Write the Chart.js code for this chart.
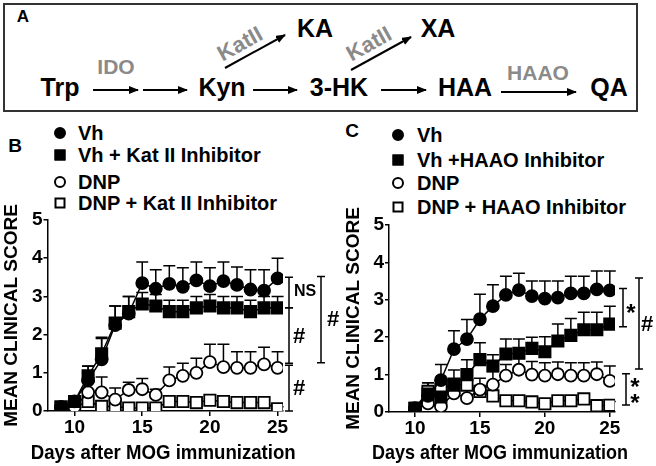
<!DOCTYPE html>
<html>
<head>
<meta charset="utf-8">
<script src="https://cdn.jsdelivr.net/npm/chart.js@4.4.1/dist/chart.umd.min.js"></script>
<style>
body{margin:0;background:#fff;width:656px;height:466px;position:relative;overflow:hidden;font-family:"Liberation Sans",Arial,sans-serif;font-weight:bold;color:#000}
.t{position:absolute;transform:translate(-50%,-50%);white-space:nowrap;line-height:1}
.l{position:absolute;transform:translate(0,-50%);white-space:nowrap;line-height:1;font-size:20px}
.g{color:#8a8a8a}
.mk{position:absolute;box-sizing:border-box;border:2px solid #000;transform:translate(-50%,-50%)}
canvas{position:absolute}
#boxA{position:absolute;left:3px;top:3px;width:635px;height:109px;border:2px solid #333;box-sizing:border-box}
</style>
</head>
<body>
<div id="boxA"></div>
<div class="t" style="left:23px;top:16px;font-size:17px">A</div>
<div class="t" style="left:60px;top:87px;font-size:25px">Trp</div>
<div class="t g" style="left:116px;top:66px;font-size:21px">IDO</div>
<div class="t" style="left:222px;top:87px;font-size:25px">Kyn</div>
<div class="t g" style="left:240px;top:44px;font-size:22px;transform:translate(-50%,-50%) rotate(-29deg)">KatII</div>
<div class="t" style="left:315px;top:28px;font-size:25px">KA</div>
<div class="t" style="left:339px;top:87px;font-size:25px">3-HK</div>
<div class="t g" style="left:369px;top:44px;font-size:22px;transform:translate(-50%,-50%) rotate(-29deg)">KatII</div>
<div class="t" style="left:438px;top:28px;font-size:25px">XA</div>
<div class="t" style="left:465px;top:87px;font-size:25px">HAA</div>
<div class="t g" style="left:538px;top:72px;font-size:21px">HAAO</div>
<div class="t" style="left:609px;top:87px;font-size:25px">QA</div>
<svg width="656" height="120" style="position:absolute;left:0;top:0">
<defs><marker id="ah" markerWidth="10" markerHeight="8" refX="9" refY="4" orient="auto" markerUnits="userSpaceOnUse"><path d="M0,0 L10,4 L0,8 z" fill="#000"/></marker></defs>
<g stroke="#000" stroke-width="2" marker-end="url(#ah)">
<line x1="93" y1="90" x2="138" y2="90"/>
<line x1="143" y1="90" x2="187" y2="90"/>
<line x1="253" y1="90" x2="297" y2="90"/>
<line x1="381" y1="90" x2="426" y2="90"/>
<line x1="501" y1="92" x2="576" y2="92"/>
<line x1="225" y1="68" x2="285" y2="35"/>
<line x1="351" y1="70" x2="411" y2="37"/>
</g>
</svg>

<div class="t" style="left:15px;top:145px;font-size:19px">B</div>
<div class="mk" style="left:60px;top:133px;width:12px;height:12px;border-radius:50%;background:#000"></div>
<div class="l" style="left:78px;top:133px">Vh</div>
<div class="mk" style="left:60px;top:155px;width:11px;height:11px;background:#000"></div>
<div class="l" style="left:78px;top:155px">Vh + Kat II Inhibitor</div>
<div class="mk" style="left:60px;top:182px;width:12px;height:12px;border-radius:50%;background:#fff"></div>
<div class="l" style="left:78px;top:182px">DNP</div>
<div class="mk" style="left:60px;top:203px;width:11px;height:11px;background:#fff"></div>
<div class="l" style="left:78px;top:203px">DNP + Kat II Inhibitor</div>

<div class="t" style="left:352px;top:130px;font-size:19px">C</div>
<div class="mk" style="left:398px;top:135px;width:12px;height:12px;border-radius:50%;background:#000"></div>
<div class="l" style="left:417px;top:135px">Vh</div>
<div class="mk" style="left:398px;top:160px;width:11px;height:11px;background:#000"></div>
<div class="l" style="left:417px;top:160px">Vh +HAAO Inhibitor</div>
<div class="mk" style="left:398px;top:183px;width:12px;height:12px;border-radius:50%;background:#fff"></div>
<div class="l" style="left:417px;top:183px">DNP</div>
<div class="mk" style="left:398px;top:207px;width:11px;height:11px;background:#fff"></div>
<div class="l" style="left:417px;top:207px">DNP + HAAO Inhibitor</div>

<canvas id="chartB" width="350" height="266" style="left:0;top:200px"></canvas>
<canvas id="chartC" width="326" height="266" style="left:330px;top:200px"></canvas>

<script>
// axis text
var yTitle = 'MEAN CLINICAL SCORE';
var xTitle = 'Days after MOG immunization';
var xTickValues = [10, 15, 20, 25];

// panel B (Kat II inhibitor)
var daysB = [9, 10, 11, 12, 13, 14, 15, 16, 17, 18, 19, 20, 21, 22, 23, 24, 25];
var vhB = [0.1, 0.25, 0.8, 1.35, 2.25, 2.55, 3.35, 3.2, 3.33, 3.25, 3.42, 3.27, 3.4, 3.3, 3.18, 3.15, 3.47];
var vhErrB = [0, 0.1, 0.38, 0.58, 0.5, 0.45, 0.55, 0.5, 0.47, 0.5, 0.48, 0.48, 0.5, 0.47, 0.52, 0.55, 0.53];
var vhKatB = [0.1, 0.25, 0.92, 1.5, 2.3, 2.6, 2.8, 2.75, 2.6, 2.6, 2.7, 2.75, 2.7, 2.7, 2.6, 2.7, 2.7];
var vhKatErrB = [0, 0.1, 0.25, 0.4, 0.45, 0.4, 0.3, 0.3, 0.3, 0.3, 0.3, 0.3, 0.3, 0.3, 0.3, 0.3, 0.3];
var dnpB = [0.1, 0.1, 0.49, 0.49, 0.3, 0.55, 0.57, 0.42, 0.8, 0.92, 1.0, 1.28, 1.15, 1.13, 1.13, 1.22, 1.13];
var dnpErrB = [0, 0, 0.35, 0.4, 0.3, 0.2, 0.28, 0.15, 0.35, 0.33, 0.38, 0.47, 0.6, 0.42, 0.42, 0.45, 0.42];
var dnpKatB = [0.1, 0.1, 0.25, 0.12, 0.12, 0.08, 0.08, 0.08, 0.25, 0.25, 0.22, 0.28, 0.25, 0.22, 0.22, 0.22, 0.06];
var dnpKatErrB = [0, 0, 0.1, 0.05, 0.05, 0.05, 0.05, 0.05, 0.1, 0.1, 0.1, 0.1, 0.1, 0.1, 0.1, 0.1, 0.05];

// panel C (HAAO inhibitor)
var daysC = [10, 11, 12, 13, 14, 15, 16, 17, 18, 19, 20, 21, 22, 23, 24, 25];
var vhC = [0.1, 0.43, 0.85, 1.68, 1.95, 2.48, 2.83, 3.13, 3.26, 3.1, 3.03, 3.06, 3.17, 3.17, 3.28, 3.25];
var vhErrC = [0, 0.35, 0.42, 0.49, 0.52, 0.67, 0.57, 0.5, 0.45, 0.4, 0.47, 0.44, 0.46, 0.46, 0.49, 0.52];
var vhHaaoC = [0.1, 0.48, 0.4, 0.72, 1.0, 1.4, 1.23, 1.55, 1.57, 1.7, 1.61, 1.9, 2.05, 2.2, 2.2, 2.35];
var vhHaaoErrC = [0, 0.3, 0.3, 0.4, 0.4, 0.45, 0.3, 0.4, 0.38, 0.3, 0.4, 0.45, 0.45, 0.47, 0.47, 0.48];
var dnpC = [0.08, 0.23, 0.15, 0.5, 0.37, 0.6, 0.73, 0.97, 1.13, 1.0, 0.97, 1.01, 0.97, 0.97, 1.01, 0.83];
var dnpErrC = [0, 0.25, 0.2, 0.3, 0.3, 0.3, 0.35, 0.3, 0.3, 0.35, 0.35, 0.33, 0.35, 0.35, 0.33, 0.4];
var dnpHaaoC = [0.1, 0.55, 0.6, 0.75, 0.72, 0.55, 0.43, 0.3, 0.3, 0.27, 0.22, 0.3, 0.3, 0.35, 0.17, 0.18];
var dnpHaaoErrC = [0, 0.1, 0.1, 0.1, 0.1, 0.1, 0.1, 0.1, 0.1, 0.1, 0.1, 0.1, 0.1, 0.1, 0.1, 0.1];

// significance brackets: [top, bottom] in score units, dx from plot right edge
var bracketsB = [
    {from: 3.5, to: 2.7, dx: 6},
    {from: 2.7, to: 1.25, dx: 6},
    {from: 1.2, to: 0, dx: 6},
    {from: 3.52, to: 1.26, dx: 38}
];
var marksB = [
    {text: 'NS', at: 3.12, dx: 22, size: 16},
    {text: '#', at: 1.94, dx: 16, size: 22},
    {text: '#', at: 0.58, dx: 16, size: 22},
    {text: '#', at: 2.38, dx: 50, size: 22}
];
var bracketsC = [
    {from: 3.3, to: 2.28, dx: 8},
    {from: 3.58, to: 1.15, dx: 24},
    {from: 1.02, to: 0.19, dx: 11}
];
var marksC = [
    {text: '*', at: 2.62, dx: 16, size: 24},
    {text: '#', at: 2.33, dx: 32, size: 22},
    {text: '*', at: 0.62, dx: 20, size: 24},
    {text: '*', at: 0.2, dx: 20, size: 24}
];

var FONT = '"Liberation Sans", Arial, sans-serif';

function pts(days, vals, errs) {
    return days.map(function(d, i) { return {x: d, y: vals[i], err: errs[i]}; });
}

function series(label, days, vals, errs, shape, fill) {
    return {
        label: label,
        data: pts(days, vals, errs),
        borderColor: '#000',
        borderWidth: 1.5,
        pointStyle: shape,
        pointRadius: shape === 'rect' ? 8 : 6,
        pointBackgroundColor: fill,
        pointBorderColor: '#000',
        pointBorderWidth: 1.8,
        tension: 0
    };
}

// upper SEM bars, drawn under the markers
var errorBars = {
    id: 'errorBars',
    beforeDatasetsDraw: function(chart) {
        var ctx = chart.ctx, xs = chart.scales.x, ys = chart.scales.y;
        ctx.save();
        ctx.strokeStyle = '#000';
        ctx.lineWidth = 1.5;
        chart.data.datasets.forEach(function(ds) {
            ds.data.forEach(function(p) {
                if (!p.err) return;
                var x = xs.getPixelForValue(p.x);
                var y0 = ys.getPixelForValue(p.y);
                var y1 = ys.getPixelForValue(p.y + p.err);
                ctx.beginPath();
                ctx.moveTo(x, y0); ctx.lineTo(x, y1);
                ctx.moveTo(x - 6, y1); ctx.lineTo(x + 6, y1);
                ctx.stroke();
            });
        });
        ctx.restore();
    }
};

// brackets + stars, and the x title (Chart.js would squeeze it to the plot width)
var brackets = {
    id: 'brackets',
    afterDraw: function(chart, args, opts) {
        var ctx = chart.ctx, ys = chart.scales.y, area = chart.chartArea, right = area.right;
        ctx.save();
        ctx.strokeStyle = '#000';
        ctx.lineWidth = 1.5;
        (opts.items || []).forEach(function(b) {
            var x = right + b.dx, y0 = ys.getPixelForValue(b.from), y1 = ys.getPixelForValue(b.to);
            ctx.beginPath();
            ctx.moveTo(x, y0); ctx.lineTo(x, y1);
            ctx.moveTo(x - 4, y0); ctx.lineTo(x + 4, y0);
            ctx.moveTo(x - 4, y1); ctx.lineTo(x + 4, y1);
            ctx.stroke();
        });
        ctx.fillStyle = '#000';
        ctx.textAlign = 'center';
        ctx.textBaseline = 'middle';
        (opts.marks || []).forEach(function(m) {
            ctx.font = 'bold ' + m.size + 'px ' + FONT;
            ctx.fillText(m.text, right + m.dx, ys.getPixelForValue(m.at));
        });
        ctx.font = 'bold 20.5px ' + FONT;
        ctx.fillText(xTitle, (area.left + area.right) / 2 - 2, chart.height - 13, opts.titleWidth);
        ctx.restore();
    }
};

function makeChart(id, datasets, pad, yWidth, xHeight, items, marks, titleWidth) {
    return new Chart(document.getElementById(id).getContext('2d'), {
        type: 'line',
        data: {datasets: datasets},
        plugins: [errorBars, brackets],
        options: {
            responsive: false,
            animation: false,
            devicePixelRatio: 1,
            layout: {padding: pad},
            plugins: {
                legend: {display: false},
                tooltip: {enabled: false},
                brackets: {items: items, marks: marks, titleWidth: titleWidth}
            },
            scales: {
                x: {
                    type: 'linear',
                    min: 8,
                    max: 25.4,
                    afterBuildTicks: function(s) { s.ticks = xTickValues.map(function(v) { return {value: v}; }); },
                    afterFit: function(s) { s.height = xHeight; },
                    ticks: {color: '#000', padding: 0, maxRotation: 0, font: {family: FONT, size: 19, weight: 'bold'}},
                    grid: {drawOnChartArea: false, drawTicks: true, tickLength: 5, color: '#000', lineWidth: 1.5},
                    border: {display: true, color: '#000', width: 1.5},
                    title: {display: false}
                },
                y: {
                    min: 0,
                    max: 5,
                    afterFit: function(s) { s.width = yWidth; },
                    ticks: {stepSize: 1, color: '#000', padding: 1, font: {family: FONT, size: 19, weight: 'bold'}},
                    grid: {drawOnChartArea: false, drawTicks: true, tickLength: 4, color: '#000', lineWidth: 1.5},
                    border: {display: true, color: '#000', width: 1.5},
                    title: {display: true, text: yTitle, color: '#000', padding: {top: 0, bottom: 0},
                            font: {family: FONT, size: 19, weight: 'bold'}}
                }
            }
        }
    });
}

makeChart('chartB', [
    series('Vh', daysB, vhB, vhErrB, 'circle', '#000'),
    series('Vh + Kat II Inhibitor', daysB, vhKatB, vhKatErrB, 'rect', '#000'),
    series('DNP', daysB, dnpB, dnpErrB, 'circle', '#fff'),
    series('DNP + Kat II Inhibitor', daysB, dnpKatB, dnpKatErrB, 'rect', '#fff')
], {left: 0, top: 20, right: 67, bottom: 0}, 47.5, 55, bracketsB, marksB, 265);

makeChart('chartC', [
    series('Vh', daysC, vhC, vhErrC, 'circle', '#000'),
    series('Vh +HAAO Inhibitor', daysC, vhHaaoC, vhHaaoErrC, 'rect', '#000'),
    series('DNP', daysC, dnpC, dnpErrC, 'circle', '#fff'),
    series('DNP + HAAO Inhibitor', daysC, dnpHaaoC, dnpHaaoErrC, 'rect', '#fff')
], {left: 12, top: 25, right: 41, bottom: 0}, 47, 54, bracketsC, marksC, 256);
</script>
</body>
</html>
